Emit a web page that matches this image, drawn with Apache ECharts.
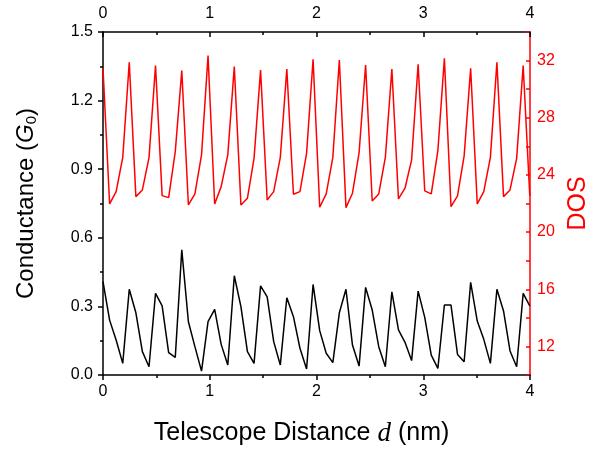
<!DOCTYPE html>
<html>
<head>
<meta charset="utf-8">
<script src="https://cdn.jsdelivr.net/npm/echarts@6/dist/echarts.min.js"></script>
<style>html,body{margin:0;padding:0;background:#fff}#c{width:595px;height:450px}</style>
</head>
<body>
<div id="c"></div>
<script>
const distance = [0.000,0.062,0.123,0.185,0.246,0.308,0.369,0.431,0.492,0.554,0.615,0.677,0.738,0.800,0.861,0.923,
0.984,1.046,1.107,1.169,1.230,1.292,1.353,1.415,1.476,1.538,1.599,1.661,1.722,1.784,1.845,1.907,
1.968,2.030,2.091,2.153,2.214,2.276,2.337,2.399,2.460,2.522,2.583,2.645,2.706,2.768,2.829,2.891,
2.952,3.014,3.075,3.137,3.198,3.260,3.321,3.383,3.444,3.506,3.567,3.629,3.690,3.752,3.813,3.875,
3.936,3.998];
const conductance = [0.408,0.240,0.153,0.051,0.375,0.272,0.102,0.036,0.357,0.302,0.098,0.077,0.547,0.233,0.124,0.017,
0.233,0.287,0.134,0.044,0.434,0.299,0.102,0.051,0.390,0.342,0.146,0.044,0.338,0.255,0.117,0.026,
0.396,0.194,0.095,0.054,0.272,0.375,0.131,0.039,0.383,0.284,0.124,0.036,0.364,0.197,0.143,0.063,
0.367,0.252,0.087,0.029,0.306,0.306,0.090,0.058,0.405,0.236,0.156,0.051,0.375,0.280,0.105,0.036,
0.357,0.302];
const dos = [31.46,21.97,22.83,25.23,31.88,22.48,22.95,25.21,31.65,22.55,22.41,25.63,31.30,21.90,22.67,25.40,
32.35,21.97,23.18,25.40,31.58,21.90,22.37,25.16,31.34,22.25,22.83,25.23,31.41,22.65,22.83,25.51,
32.09,21.74,22.67,25.23,32.04,21.71,22.72,25.56,31.69,22.18,22.67,25.23,31.41,22.32,23.07,25.05,
31.74,22.88,22.67,25.70,32.16,21.78,22.53,25.33,31.46,21.97,22.83,25.23,31.88,22.48,22.95,25.16,
31.65,22.53];
const dosLabelTicks = [12,16,20,24,28,32];
const dosAllTicks = [10,12,14,16,18,20,22,24,26,28,30,32,34];

const FONT = 'Liberation Sans, Arial, sans-serif';
const chart = echarts.init(document.getElementById('c'), null, {renderer: 'canvas'});
const black = '#000000', red = '#ff0000';

function xAx(pos, inside, showName) {
  return {
    type: 'value', position: pos, min: 0, max: 4, interval: 1,
    name: showName ? '{a|Telescope Distance }{i|d}{a| (nm)}' : '',
    nameLocation: 'middle', nameGap: 45,
    nameTextStyle: {padding: [0, 30, 0, 0], rich: {
      a: {fontFamily: FONT, fontSize: 25, color: '#000'},
      i: {fontFamily: 'Liberation Serif, Times New Roman, serif', fontStyle: 'italic', fontSize: 27, color: '#000'}
    }},
    axisLine: {show: true, onZero: false, lineStyle: {color: black, width: 1.5}},
    axisTick: {show: true, inside: inside, length: 5, lineStyle: {color: black, width: 1.5}},
    minorTick: {show: true, splitNumber: 2, length: 3, lineStyle: {color: black, width: 1.5}},
    axisLabel: {show: true, margin: pos === 'top' ? 10 : 9, fontFamily: FONT, fontSize: 16, color: '#000'},
    splitLine: {show: false}, minorSplitLine: {show: false}
  };
}

const option = {
  animation: false,
  backgroundColor: '#fff',
  grid: {left: 103, right: 65, top: 32, bottom: 75, containLabel: false, outerBoundsMode: 'none'},
  xAxis: [xAx('bottom', false, true), xAx('top', true, false)],
  yAxis: [
    {
      type: 'value', position: 'left', min: 0, max: 1.5, interval: 0.3,
      name: '{a|Conductance (}{i|G}{s|0}{a|)}',
      nameLocation: 'middle', nameGap: 64,
      nameTextStyle: {rich: {
        a: {fontFamily: FONT, fontSize: 24, color: '#000'},
        i: {fontFamily: FONT, fontStyle: 'italic', fontSize: 24, color: '#000'},
        s: {fontFamily: FONT, fontSize: 15, color: '#000', padding: [11, 0, 0, 0]}
      }},
      axisLine: {show: true, onZero: false, lineStyle: {color: black, width: 1.5}},
      axisTick: {show: true, inside: false, length: 5, lineStyle: {color: black, width: 1.5}},
      minorTick: {show: true, splitNumber: 2, length: 3, lineStyle: {color: black, width: 1.5}},
      axisLabel: {margin: 10, fontFamily: FONT, fontSize: 16, color: '#000', formatter: v => v.toFixed(1)},
      splitLine: {show: false}
    },
    {
      type: 'value', position: 'right', min: 10, max: 34,
      name: 'DOS', nameLocation: 'middle', nameGap: 33,
      nameTextStyle: {fontFamily: FONT, fontSize: 25, color: red},
      axisLine: {show: true, onZero: false, lineStyle: {color: red, width: 1.5}},
      axisTick: {show: true, inside: true, length: 4, customValues: dosAllTicks, lineStyle: {color: red, width: 1.5}},
      axisLabel: {margin: 7, fontFamily: FONT, fontSize: 16, color: red, customValues: dosLabelTicks},
      splitLine: {show: false}
    }
  ],
  series: [
    {
      type: 'line', xAxisIndex: 0, yAxisIndex: 0, symbol: 'none',
      lineStyle: {color: black, width: 1.5},
      data: distance.map((d, i) => [d, conductance[i]])
    },
    {
      type: 'line', xAxisIndex: 0, yAxisIndex: 1, symbol: 'none',
      lineStyle: {color: red, width: 1.5},
      data: distance.map((d, i) => [d, dos[i]])
    }
  ]
};
chart.setOption(option);
</script>
</body>
</html>
